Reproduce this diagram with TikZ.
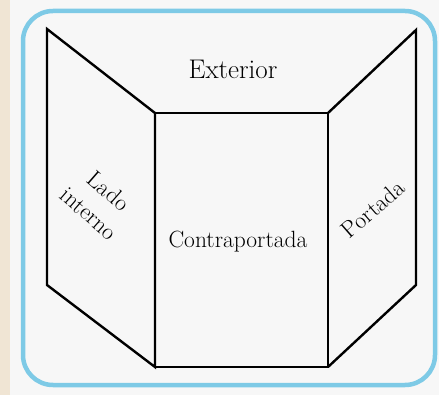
\documentclass[tikz,border=0pt]{standalone}
\usepackage{fontspec}
\begin{document}
\begin{tikzpicture}[x=1pt,y=-1pt,
  panel/.style={draw=black,line width=2.4pt,line join=miter},
  lbl/.style={inner sep=0pt,font=\fontsize{23.5}{30}\selectfont\addfontfeature{FakeBold=0.6}},
  frame/.style={draw=framecol,line width=4.5pt,rounded corners=30pt,fill=innerbg}]
\definecolor{framecol}{RGB}{126,202,230}
\definecolor{innerbg}{RGB}{247,247,247}
\definecolor{beige}{RGB}{240,229,212}
\useasboundingbox (0,0) rectangle (439,395);
\fill[white!97!black] (0,0) rectangle (439,395);
\fill[beige] (0,0) rectangle (10,395);
\draw[frame] (23,11) rectangle (435,385);
% panels
\draw[panel] (47,29) -- (155,113) -- (155,367) -- (47,285) -- cycle;
\draw[panel] (155,113) rectangle (328,367);
\draw[panel] (328,113) -- (416,30) -- (416,285) -- (328,367);
% labels
\node[lbl,font=\fontsize{27}{30}\selectfont\addfontfeature{FakeBold=0.6}] (ext) at (233,69) {Exterior};
\node[lbl] (contra) at (238,242) {Contraportada};
\node[lbl,rotate=41] (portada) at (373,209) {Portada};
\node[lbl,rotate=-41,align=center] (lado) at (99,202) {Lado\\interno};
\end{tikzpicture}
\end{document}
